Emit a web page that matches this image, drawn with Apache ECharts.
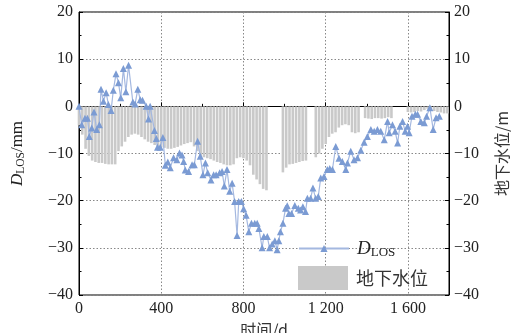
<!DOCTYPE html>
<html><head><meta charset="utf-8">
<script src="https://cdn.jsdelivr.net/npm/echarts@6/dist/echarts.min.js"></script>
<style>html,body{margin:0;padding:0;background:#fff}#c{width:527px;height:333px}</style>
</head><body><div id="c"></div>
<script>
// D_LOS time series (days, mm)
const losDays = [0,13,29,41,50,62,73,86,99,107,119,132,143,156,167,180,192,203,216,228,241,262,273,286,298,309,327,338,346,367,376,382,395,408,420,432,444,460,476,489,501,509,517,533,550,561,577,590,603,615,626,642,655,667,684,696,707,720,733,745,757,769,777,790,801,813,826,839,855,867,875,891,899,916,927,940,953,964,972,980,992,1005,1013,1021,1034,1050,1067,1078,1089,1102,1111,1127,1138,1151,1164,1176,1192,1208,1220,1233,1249,1265,1281,1298,1306,1322,1338,1355,1371,1387,1403,1420,1436,1452,1468,1485,1501,1509,1525,1538,1550,1561,1574,1587,1598,1606,1620,1636,1647,1663,1680,1691,1707,1723,1737,1753];
const losValues = [0,-3.9,-2.5,-2.5,-6.4,-4.6,-1.2,-4.9,-3.9,3.6,1.1,2.9,0.4,-0.9,3.4,6.9,5.0,1.8,8.0,3.1,8.7,0.9,0.5,3.6,1.4,1.3,0,-2.7,0,-5.1,-6.8,-8.7,-8.7,-6.6,-12.5,-11.8,-13,-10.9,-11.3,-9.9,-10.3,-11.7,-13.5,-13.8,-12.4,-12.4,-7.4,-10.6,-14.5,-12,-14.1,-15.6,-14.5,-14.5,-14.1,-13.8,-16.9,-13.4,-18,-16.3,-20.2,-27.4,-20.2,-20.2,-21.7,-23.1,-26.6,-24.8,-24.8,-24.8,-25.9,-30,-27.6,-27.6,-30,-29.2,-28.5,-30.4,-28.5,-26.6,-24.8,-21.6,-21.1,-22.7,-22.7,-21,-21.6,-22,-21.3,-22.3,-19.5,-19.5,-17.3,-19.5,-19.1,-15.2,-14.9,-13.4,-13.2,-13.4,-8.5,-11,-11.7,-13.4,-12,-9.5,-11.3,-10.9,-9.3,-7.6,-6.4,-4.9,-5.3,-4.9,-5.3,-7.1,-3.2,-5.6,-3.9,-5.3,-7.8,-4.2,-3.2,-5.3,-4.2,-5.6,-2.1,-1.7,-1.7,-3.2,-3.5,-2.1,-0.3,-4.9,-2.4,-2.1];
// groundwater level (days, m)
const gwDays = [0,16,32,48,64,80,96,112,128,144,160,176,192,208,224,240,256,272,288,304,320,336,352,368,384,400,416,432,448,464,480,496,512,528,544,560,576,592,608,624,640,656,672,688,704,720,736,752,768,784,800,816,832,848,864,880,896,912,992,1008,1024,1040,1056,1072,1088,1104,1152,1168,1184,1200,1216,1232,1248,1264,1280,1296,1312,1328,1344,1360,1392,1408,1424,1440,1456,1472,1488,1504,1520,1600,1616,1632,1648,1664,1680,1696,1712,1728,1744,1760,1776,1792];
const gwLevels = [-4,-6,-9,-10.5,-11.5,-11.8,-12,-12,-12.2,-12.3,-12.3,-12.3,-9.5,-8.5,-7.5,-6.5,-6,-5.8,-6,-6.5,-7,-7.5,-7.8,-8.2,-8.5,-8.7,-8.8,-9,-9,-8.8,-8.6,-8.3,-8,-7.8,-7.6,-8.5,-9.5,-10.5,-10.8,-11,-11.2,-11.5,-11.8,-12,-12.3,-12.5,-12.5,-12.3,-11,-10.8,-11,-11.5,-12.5,-14.5,-15.5,-16.5,-17.5,-17.8,-14,-13,-12.3,-12.2,-12,-11.8,-11.6,-11.5,-10.8,-10,-9,-8,-6.5,-5.8,-5.5,-4.5,-4,-3.8,-4,-5.5,-5.7,-5.5,-2.5,-2.6,-2.7,-2.5,-2.5,-2.6,-2.5,-2.3,-2.5,-1.2,-1.3,-1.2,-1.0,-1.1,-0.8,-0.5,-0.8,-1.0,-1.2,-1.3,-1.5,-1.5];
const xTickValues = [0,400,800,1200,1600];
const xTickLabels = ['0','400','800','1 200','1 600'];
const yTickValues = [20,10,0,-10,-20,-30,-40];
const yTickLabels = ['20','10','0','−10','−20','−30','−40'];

const serif = 'Liberation Serif';
const cjk = 'Noto Sans CJK SC';
const chart = echarts.init(document.getElementById('c'), null, {renderer: 'canvas'});

function xFmt(v) { const i = xTickValues.indexOf(v); return i >= 0 ? xTickLabels[i] : ''; }
function yFmt(v) { const i = yTickValues.indexOf(v); return i >= 0 ? yTickLabels[i] : ''; }

const tickStyle = {show: true, inside: true, length: 4, lineStyle: {color: '#000', width: 1}};
const minorTick = {show: true, splitNumber: 2, length: 2.5, lineStyle: {color: '#000', width: 1}};
const dotted = {show: true, lineStyle: {color: '#888', width: 1, type: [1.5, 2]}};
const richName = {
  i: {fontFamily: serif, fontStyle: 'italic', fontSize: 17, color: '#222'},
  s: {fontFamily: serif, fontSize: 11.5, color: '#222', padding: [7, 0, 0, 0]},
  n: {fontFamily: serif, fontSize: 17, color: '#222'}
};

chart.setOption({
  animation: false,
  backgroundColor: '#fff',
  grid: {left: 79, right: 78, top: 12, bottom: 38, show: true, borderColor: '#000', borderWidth: 1,
         containLabel: false, outerBoundsMode: 'none'},
  legend: [
    {data: ['DLOS'], left: 293, top: 234, itemWidth: 50, itemHeight: 9, itemGap: 0,
     formatter: () => '{i|D}{s|LOS}',
     textStyle: {padding: [0, 0, 0, 3], rich: {
       i: {fontFamily: serif, fontStyle: 'italic', fontSize: 19, color: '#222'},
       s: {fontFamily: serif, fontSize: 13, color: '#222', padding: [8, 0, 0, 0]}}}},
    {data: ['地下水位'], left: 293, top: 261, itemWidth: 50, itemHeight: 24, icon: 'rect',
     textStyle: {fontFamily: cjk, fontSize: 18, color: '#333', padding: [0, 0, 0, 3]}}
  ],
  xAxis: {
    type: 'value', min: 0, max: 1800, interval: 400,
    name: '时间/d', nameLocation: 'middle', nameGap: 22,
    nameTextStyle: {fontFamily: cjk, fontSize: 16, color: '#333'},
    axisLine: {show: true, lineStyle: {color: '#000', width: 1}},
    axisTick: tickStyle, minorTick: minorTick,
    axisLabel: {formatter: xFmt, fontFamily: serif, fontSize: 16, color: '#222', margin: 6, showMaxLabel: false},
    splitLine: dotted
  },
  yAxis: [
    {type: 'value', min: -40, max: 20, interval: 10, position: 'left',
     name: '{i|D}{s|LOS}{n|/mm}', nameLocation: 'middle', nameGap: 52, nameRotate: 90,
     nameTextStyle: {rich: richName},
     axisLine: {show: true, lineStyle: {color: '#000', width: 1}},
     axisTick: tickStyle, minorTick: minorTick,
     axisLabel: {formatter: yFmt, fontFamily: serif, fontSize: 16, color: '#222', margin: 6},
     splitLine: dotted},
    {type: 'value', min: -40, max: 20, interval: 10, position: 'right',
     name: '地下水位/m', nameLocation: 'middle', nameGap: 45, nameRotate: 90,
     nameTextStyle: {fontFamily: cjk, fontSize: 16, color: '#333'},
     axisLine: {show: true, lineStyle: {color: '#000', width: 1}},
     axisTick: tickStyle, minorTick: minorTick,
     axisLabel: {formatter: yFmt, fontFamily: serif, fontSize: 16, color: '#222', margin: 5},
     splitLine: {show: false}}
  ],
  series: [
    {name: '地下水位', type: 'bar', yAxisIndex: 1, barWidth: 2.6,
     itemStyle: {color: '#c9c9c9'},
     data: gwDays.map((d, i) => [d, gwLevels[i]])},
    {name: 'DLOS', type: 'line', yAxisIndex: 0, symbol: 'triangle', symbolSize: 7,
     lineStyle: {color: '#a4b8e0', width: 1.2}, itemStyle: {color: '#7b9bd3'},
     data: losDays.map((d, i) => [d, losValues[i]]), z: 5}
  ]
});
</script>
</body></html>
